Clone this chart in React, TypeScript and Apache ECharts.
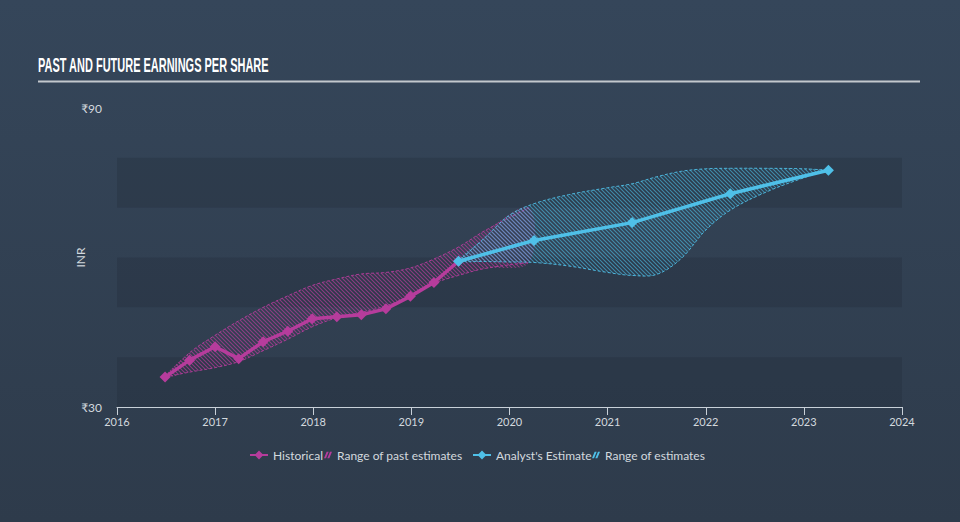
import React, { useEffect, useRef } from 'react';
import * as echarts from 'echarts';

// ---- data (decimal years, EPS in INR) ----
const histX = [2016.49, 2016.74, 2017.0, 2017.24, 2017.49, 2017.74, 2017.99, 2018.24, 2018.49, 2018.74, 2018.99, 2019.23, 2019.48];
const histEPS = [36.0, 39.4, 42.1, 39.7, 43.1, 45.2, 47.7, 48.1, 48.5, 49.7, 52.2, 55.0, 59.25];

const estX = [2019.48, 2020.25, 2021.25, 2022.25, 2023.25];
const estEPS = [59.25, 63.4, 67.0, 72.8, 77.5];

const pastRangeX = [2016.49, 2016.74, 2017.0, 2017.24, 2017.49, 2017.74, 2017.99, 2018.24, 2018.49, 2018.74, 2018.99, 2019.23, 2019.48, 2019.75, 2020.2];
const pastLow = [36.0, 37.0, 37.9, 39.1, 41.3, 43.6, 46.1, 47.9, 49.0, 50.3, 52.3, 54.8, 56.4, 57.8, 59.0];
const pastHigh = [36.0, 40.9, 44.4, 47.3, 50.0, 52.3, 54.4, 55.7, 56.7, 57.0, 57.9, 59.7, 62.1, 65.4, 70.0];

const futRangeX = [2019.48, 2019.75, 2020.0, 2020.25, 2020.6, 2021.0, 2021.25, 2021.5, 2021.75, 2022.0, 2022.25, 2022.6, 2023.0, 2023.25];
const futLow = [59.25, 59.2, 59.1, 59.0, 58.3, 57.0, 56.4, 56.6, 59.8, 65.5, 69.5, 73.0, 76.0, 77.5];
const futHigh = [59.25, 64.0, 68.5, 70.8, 72.6, 74.0, 74.8, 76.2, 77.3, 77.8, 77.9, 77.9, 77.8, 77.5];

const yTickLabels = [30, 90];

const MAGENTA = '#b63c9c';
const CYAN = '#4fc0e8';
const TEXT = '#d3d9de';
const FONT = 'Lato, "Noto Sans", "DejaVu Sans", sans-serif';
const SMOOTH = 0.35;

function hatch(color: string) {
  const c = document.createElement('canvas');
  c.width = 4;
  c.height = 4;
  const ctx = c.getContext('2d')!;
  ctx.strokeStyle = color;
  ctx.lineWidth = 1.1;
  ctx.beginPath();
  ctx.moveTo(-1, -1); ctx.lineTo(5, 5);
  ctx.moveTo(-1, 3); ctx.lineTo(1, 5);
  ctx.moveTo(3, -1); ctx.lineTo(5, 1);
  ctx.stroke();
  return { image: c.toDataURL(), repeat: 'repeat', imageWidth: 4, imageHeight: 4 };
}

const zip = (xs: number[], ys: number[]) => xs.map((x, i) => [x, ys[i]]);

const BAND_ICON = 'path://M0,10 L3,10 L7,0 L4,0 Z M5,10 L8,10 L12,0 L9,0 Z';

function bandSeries(name: string, xs: number[], lo: number[], hi: number[], color: string, fill: any, z: number) {
  return {
    name,
    type: 'custom',
    z,
    silent: true,
    clip: true,
    itemStyle: { color },
    encode: { x: 0, y: 1 },
    data: [[xs[0], lo[0]]],
    renderItem: (_params: any, api: any) => {
      const up = xs.map((x, i) => api.coord([x, hi[i]]));
      const dn = xs.map((x, i) => api.coord([x, lo[i]]));
      const ring: number[][] = [];
      up.concat(dn.slice().reverse()).forEach((p: number[]) => {
        const last = ring[ring.length - 1];
        if (!last || Math.abs(last[0] - p[0]) > 0.01 || Math.abs(last[1] - p[1]) > 0.01) ring.push(p);
      });
      if (ring.length > 1) {
        const a = ring[0];
        const b = ring[ring.length - 1];
        if (Math.abs(a[0] - b[0]) < 0.01 && Math.abs(a[1] - b[1]) < 0.01) ring.pop();
      }
      const edge = { stroke: color, lineWidth: 1, lineDash: [3, 2], fill: null, opacity: 0.9 };
      return {
        type: 'group',
        children: [
          { type: 'polygon', shape: { points: ring, smooth: SMOOTH }, style: { fill, stroke: null } },
          { type: 'polyline', shape: { points: up, smooth: SMOOTH }, style: edge },
          { type: 'polyline', shape: { points: dn, smooth: SMOOTH }, style: edge },
        ],
      };
    },
  };
}

export default function App() {
  const ref = useRef<HTMLDivElement>(null);
  useEffect(() => {
    document.body.style.margin = '0';
    const chart = echarts.init(ref.current!, null, { renderer: 'svg' });
    const legendText = { color: TEXT, fontSize: 12, fontFamily: FONT };
    const legendBase = { top: 449, padding: 0, textStyle: legendText, selectedMode: false };
    chart.setOption({
      animation: false,
      backgroundColor: {
        type: 'linear', x: 0, y: 0, x2: 0, y2: 1,
        colorStops: [{ offset: 0, color: '#35465a' }, { offset: 1, color: '#2e3b4b' }],
      },
      graphic: [
        {
          type: 'text', x: 38, y: 55, scaleX: 0.523,
          style: {
            text: 'PAST AND FUTURE EARNINGS PER SHARE',
            fill: '#ffffff',
            font: 'bold 21px "Liberation Sans", Arial, sans-serif',
            textVerticalAlign: 'top',
          },
        },
        { type: 'line', shape: { x1: 38, y1: 81.5, x2: 920, y2: 81.5 }, style: { stroke: '#c3c8cd', lineWidth: 2 } },
      ],
      legend: [
        { ...legendBase, data: ['Historical'], left: 249, itemWidth: 18, itemHeight: 11 },
        { ...legendBase, data: [{ name: 'Range of past estimates', icon: BAND_ICON }], left: 324, itemWidth: 8, itemHeight: 9 },
        { ...legendBase, data: ['Analyst\'s Estimate'], left: 472, itemWidth: 18, itemHeight: 11 },
        { ...legendBase, data: [{ name: 'Range of estimates', icon: BAND_ICON }], left: 592, itemWidth: 8, itemHeight: 9 },
      ],
      grid: { left: 117, right: 58, top: 108, bottom: 115 },
      xAxis: {
        type: 'value', min: 2016, max: 2024, interval: 1,
        axisLine: { lineStyle: { color: '#c8d0d8', width: 1 } },
        axisTick: { show: true, length: 8, lineStyle: { color: '#c8d0d8' } },
        axisLabel: { color: TEXT, fontSize: 11, fontFamily: FONT, margin: 9, formatter: (v: number) => String(v) },
        splitLine: { show: false },
      },
      yAxis: {
        type: 'value', min: 30, max: 90, interval: 10,
        name: 'INR', nameLocation: 'middle', nameGap: 31, nameRotate: 90, nameMoveOverlap: false,
        nameTextStyle: { color: TEXT, fontSize: 12, fontFamily: FONT },
        axisLine: { show: false },
        axisTick: { show: false },
        axisLabel: {
          color: TEXT, fontSize: 12, fontFamily: FONT, margin: 15,
          formatter: (v: number) => (yTickLabels.includes(v) ? '₹' + v : ''),
        },
        splitLine: { show: false },
        splitArea: {
          show: true,
          areaStyle: { color: ['rgba(28,38,50,0.24)', 'rgba(0,0,0,0)'] },
        },
      },
      series: [
        bandSeries('Range of past estimates', pastRangeX, pastLow, pastHigh, MAGENTA, hatch('rgba(190,60,160,0.65)'), 1),
        bandSeries('Range of estimates', futRangeX, futLow, futHigh, CYAN, hatch('rgba(79,192,232,0.6)'), 2),
        {
          name: 'Historical', type: 'line', z: 5,
          data: zip(histX, histEPS),
          symbol: 'diamond', symbolSize: 11,
          lineStyle: { color: MAGENTA, width: 3.5 },
          itemStyle: { color: MAGENTA },
        },
        {
          name: 'Analyst\'s Estimate', type: 'line', z: 6,
          data: zip(estX, estEPS),
          symbol: 'diamond', symbolSize: 11,
          lineStyle: { color: CYAN, width: 3.5 },
          itemStyle: { color: CYAN },
        },
      ],
    });
    return () => chart.dispose();
  }, []);
  return <div ref={ref} style={{ width: 960, height: 522 }} />;
}
